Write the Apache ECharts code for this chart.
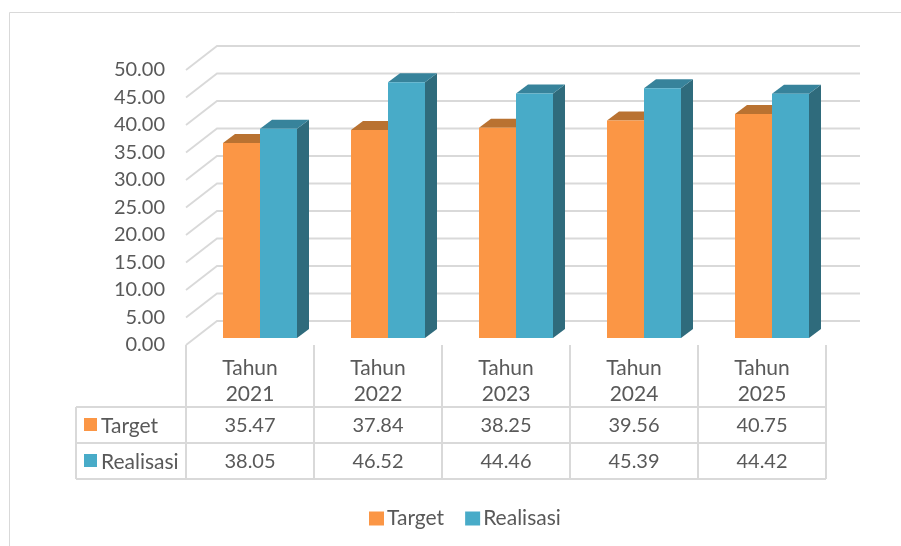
<!DOCTYPE html>
<html>
<head>
<meta charset="utf-8">
<style>html,body{margin:0;padding:0;background:#fff}#main{width:901px;height:546px}</style>
<script src="https://cdn.jsdelivr.net/npm/echarts@6/dist/echarts.min.js"></script>
</head>
<body>
<div id="main"></div>
<script>
var categories = ['Tahun\n2021', 'Tahun\n2022', 'Tahun\n2023', 'Tahun\n2024', 'Tahun\n2025'];
var target = [35.47, 37.84, 38.25, 39.56, 40.75];
var realisasi = [38.05, 46.52, 44.46, 45.39, 44.42];
var yTicks = [0, 5, 10, 15, 20, 25, 30, 35, 40, 45, 50];

var fontName = 'Lato';
var numSize = 20, wordSize = 21;
var textColor = '#595959';
var lineColor = '#d9d9d9';
var orange = { front: '#fb9645', top: '#b97231', side: '#b97231' };
var teal = { front: '#48abc8', top: '#37839b', side: '#2f6b7c' };

// kedalaman 3D
var wallDx = 31, wallDy = -24;
var barOffX = 10, barOffY = -7;
var barDx = 12, barDy = -9;
var barW = 37;

// tabel data di bawah grafik
var gridLeft = 186, gridRight = 826, gridBottom = 345;
var colW = (gridRight - gridLeft) / categories.length;
var tableLeft = 76, rowY = [407, 443, 479];

function barItem(side, colors) {
    return function (params, api) {
        var p0 = api.coord([api.value(0), 0]);
        var p1 = api.coord([api.value(0), api.value(1)]);
        var xl = p0[0] + barOffX + (side < 0 ? -barW : 0);
        var xr = xl + barW;
        var yb = p0[1] + barOffY;
        var yt = p1[1] + barOffY;
        return {
            type: 'group',
            children: [
                { type: 'polygon', shape: { points: [[xr, yt], [xr + barDx, yt + barDy], [xr + barDx, yb + barDy], [xr, yb]] }, style: { fill: colors.side } },
                { type: 'polygon', shape: { points: [[xl, yt], [xr, yt], [xr + barDx, yt + barDy], [xl + barDx, yt + barDy]] }, style: { fill: colors.top } },
                { type: 'rect', shape: { x: xl, y: yt, width: barW, height: yb - yt }, style: { fill: colors.front } }
            ]
        };
    };
}

function wallItem(params, api) {
    var y = api.coord([0, api.value(1)])[1];
    var x0 = params.coordSys.x;
    var x1 = x0 + params.coordSys.width;
    return {
        type: 'polyline',
        shape: { points: [[x0, y], [x0 + wallDx, y + wallDy], [x1 + wallDx + 3, y + wallDy]] },
        style: { stroke: lineColor, lineWidth: 1.8, fill: null }
    };
}

function line(x1, y1, x2, y2, w) {
    return { type: 'line', silent: true, shape: { x1: x1, y1: y1, x2: x2, y2: y2 }, style: { stroke: lineColor, lineWidth: w || 2 } };
}

function label(x, y, str, size, align) {
    return {
        type: 'text', silent: true, x: x, y: y,
        style: { text: str, fill: textColor, font: size + 'px ' + fontName, align: align || 'center', verticalAlign: 'middle' }
    };
}

function buildTable() {
    var els = [];
    // garis tepi luar
    els.push(line(9.5, 12.5, 901, 12.5, 1));
    els.push(line(9.5, 12.5, 9.5, 546, 1));
    // garis tabel
    rowY.forEach(function (y) { els.push(line(tableLeft, y, gridRight, y)); });
    els.push(line(tableLeft, rowY[0], tableLeft, rowY[2]));
    for (var i = 0; i <= categories.length; i++) {
        var x = gridLeft + i * colW;
        els.push(line(x, gridBottom, x, rowY[2]));
    }
    // kunci warna + nama baris
    [['Target', orange.front, target], ['Realisasi', teal.front, realisasi]].forEach(function (row, r) {
        var cy = (rowY[r] + rowY[r + 1]) / 2;
        els.push({ type: 'rect', silent: true, shape: { x: 84, y: cy - 7, width: 13, height: 13 }, style: { fill: row[1] } });
        els.push(label(101, cy + 1, row[0], wordSize, 'left'));
        row[2].forEach(function (v, c) {
            els.push(label(gridLeft + (c + 0.5) * colW, cy + 1, v.toFixed(2), numSize));
        });
    });
    return els;
}

function toPairs(arr) {
    return arr.map(function (v, i) { return [i, v]; });
}

var myChart = echarts.init(document.getElementById('main'), null, { renderer: 'canvas' });
var option = {
    animation: false,
    backgroundColor: '#fff',
    grid: { left: gridLeft, right: 901 - gridRight, top: 70, bottom: 546 - gridBottom },
    legend: {
        data: ['Target', 'Realisasi'],
        left: 364, top: 503, icon: 'rect', itemWidth: 15, itemHeight: 14, itemGap: 21,
        textStyle: { color: textColor, fontFamily: fontName, fontSize: wordSize, padding: [0, 0, 0, -2] }
    },
    xAxis: {
        type: 'category', data: categories,
        axisLine: { show: false }, axisTick: { show: false }, splitLine: { show: false },
        axisLabel: { color: textColor, fontFamily: fontName, fontSize: wordSize, lineHeight: 26, margin: 10, interval: 0 }
    },
    yAxis: {
        type: 'value', min: 0, max: 50, interval: 5,
        axisLine: { show: false }, axisTick: { show: false }, splitLine: { show: false },
        axisLabel: { color: textColor, fontFamily: fontName, fontSize: numSize, margin: 21, padding: [4, 0, 0, 0], formatter: function (v) { return v.toFixed(2); } }
    },
    graphic: buildTable(),
    series: [
        { name: 'wall', type: 'custom', z: 1, silent: true, renderItem: wallItem, data: yTicks.map(function (v) { return [0, v]; }), encode: { x: 0, y: 1 } },
        { name: 'Target', type: 'custom', z: 2, itemStyle: { color: orange.front }, renderItem: barItem(-1, orange), data: toPairs(target), encode: { x: 0, y: 1 } },
        { name: 'Realisasi', type: 'custom', z: 3, itemStyle: { color: teal.front }, renderItem: barItem(1, teal), data: toPairs(realisasi), encode: { x: 0, y: 1 } }
    ]
};
myChart.setOption(option);
</script>
</body>
</html>
